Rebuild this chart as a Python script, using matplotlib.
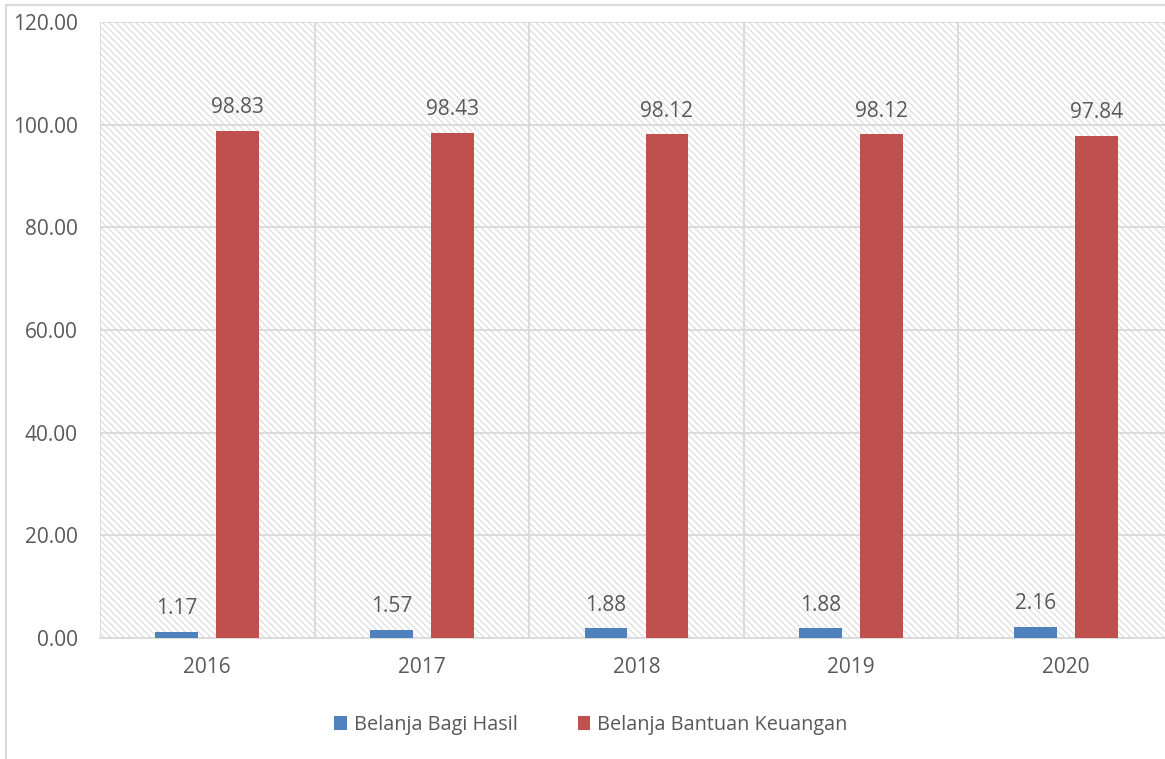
import matplotlib.pyplot as plt
import numpy as np
from matplotlib.patches import Rectangle

years = ['2016', '2017', '2018', '2019', '2020']
bagi_hasil = [1.17, 1.57, 1.88, 1.88, 2.16]
bantuan_keuangan = [98.83, 98.43, 98.12, 98.12, 97.84]
labels = ['Belanja Bagi Hasil', 'Belanja Bantuan Keuangan']
colors = ['#4f81bd', '#c0504d']

plt.rcParams['font.family'] = ['Open Sans', 'DejaVu Sans']
plt.rcParams['hatch.linewidth'] = 0.7
plt.rcParams['hatch.color'] = '#d6d6d6'
txt = '#595959'
grid = '#d9d9d9'

W, H = 1165, 759
fig = plt.figure(figsize=(W / 100, H / 100), dpi=100)

# outer chart border
fig.patches.append(Rectangle((6 / W, -0.1), 1.2, (H - 5) / H + 0.1,
                             transform=fig.transFigure, fill=False,
                             edgecolor=grid, linewidth=1.5))

# plot area in pixels: left 100, right ~1173, top 22, bottom 638
ax = fig.add_axes([100 / W, 1 - 638 / H, 1073 / W, 616 / H])

x = np.arange(len(years))
ax.set_xlim(-0.5, len(years) - 0.5)
ax.set_ylim(0, 120)

# hatched background
ax.add_patch(Rectangle((-0.5, 0), len(years), 120, facecolor='white',
                       hatch='\\\\\\\\\\', edgecolor='#d6d6d6', linewidth=0,
                       zorder=0))

for y in np.arange(20, 121, 20):
    ax.axhline(y, color=grid, linewidth=1.3, zorder=1)
for b in np.arange(-0.5, len(years), 1):
    ax.axvline(b, color=grid, linewidth=1.3, zorder=1)

w = 0.2
off = 0.142
b1 = ax.bar(x - off, bagi_hasil, w, color=colors[0], label=labels[0], zorder=3)
b2 = ax.bar(x + off, bantuan_keuangan, w, color=colors[1], label=labels[1], zorder=3)

for bars, vals in ((b1, bagi_hasil), (b2, bantuan_keuangan)):
    for r, v in zip(bars, vals):
        ax.annotate('%.2f' % v, (r.get_x() + r.get_width() / 2, v),
                    xytext=(0, 9), textcoords='offset points',
                    ha='center', va='bottom', fontsize=15, color=txt)

for s in ['top', 'right', 'left']:
    ax.spines[s].set_visible(False)
ax.spines['bottom'].set_color(grid)
ax.spines['bottom'].set_linewidth(1.3)

ax.set_xticks(x)
ax.set_xticklabels(years)
ax.set_yticks(np.arange(0, 121, 20))
ax.set_yticklabels(['%.2f' % v for v in np.arange(0, 121, 20)])
ax.tick_params(length=0, labelsize=15, colors=txt)
ax.tick_params(axis='x', pad=14)
ax.tick_params(axis='y', pad=16)

leg = fig.legend(loc='center', bbox_to_anchor=(591 / W, 1 - 725 / H), ncol=2,
                 frameon=False, fontsize=14.3, handlelength=0.65, handleheight=0.65,
                 handletextpad=0.35, columnspacing=3.0)
for t in leg.get_texts():
    t.set_color(txt)

fig.savefig('out.png', dpi=100)
